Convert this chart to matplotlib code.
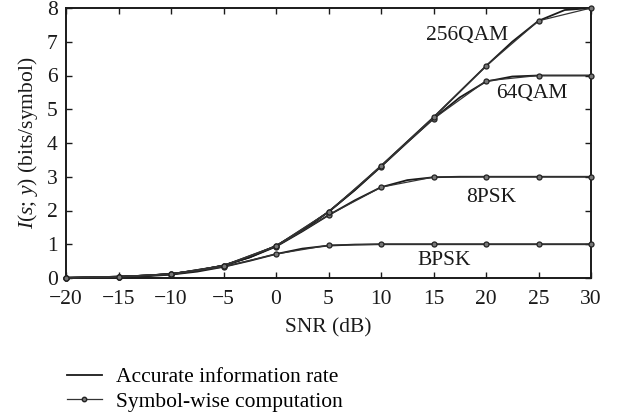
import matplotlib
matplotlib.use("Agg")
import matplotlib.pyplot as plt
from matplotlib.lines import Line2D

plt.rcParams['font.family'] = ['Liberation Serif', 'DejaVu Serif']
plt.rcParams['mathtext.fontset'] = 'custom'
plt.rcParams['mathtext.rm'] = 'Liberation Serif'
plt.rcParams['mathtext.it'] = 'Liberation Serif:italic'

# Symbol-wise computation (markers every 5 dB)
snr = [-20, -15, -10, -5, 0, 5, 10, 15, 20, 25, 30]
sym_bpsk = [0.005, 0.025, 0.10, 0.33, 0.71, 0.97, 1.0, 1.0, 1.0, 1.0, 1.0]
sym_8psk = [0.008, 0.04, 0.12, 0.36, 0.93, 1.86, 2.69, 2.99, 3.0, 3.0, 3.0]
sym_64qam = [0.008, 0.04, 0.12, 0.37, 0.95, 1.95, 3.30, 4.72, 5.84, 6.0, 6.0]
sym_256qam = [0.008, 0.04, 0.12, 0.37, 0.95, 1.96, 3.32, 4.76, 6.28, 7.62, 8.0]

# Accurate information rate (read at 2.5 dB steps)
snr_fine = [-20, -17.5, -15, -12.5, -10, -7.5, -5, -2.5, 0, 2.5, 5, 7.5,
            10, 12.5, 15, 17.5, 20, 22.5, 25, 27.5, 30]
acc_bpsk = [0.005, 0.012, 0.025, 0.05, 0.10, 0.19, 0.33, 0.51, 0.71, 0.87,
            0.96, 0.99, 1.0, 1.0, 1.0, 1.0, 1.0, 1.0, 1.0, 1.0, 1.0]
acc_8psk = [0.008, 0.018, 0.04, 0.07, 0.12, 0.22, 0.37, 0.61, 0.93, 1.38,
            1.86, 2.30, 2.69, 2.90, 2.985, 3.0, 3.0, 3.0, 3.0, 3.0, 3.0]
acc_64qam = [0.008, 0.018, 0.04, 0.07, 0.12, 0.22, 0.37, 0.62, 0.95, 1.41,
             1.96, 2.60, 3.30, 4.02, 4.72, 5.35, 5.82, 5.97, 6.0, 6.0, 6.0]
acc_256qam = [0.008, 0.018, 0.04, 0.07, 0.12, 0.22, 0.37, 0.62, 0.95, 1.41,
              1.96, 2.61, 3.32, 4.04, 4.76, 5.52, 6.28, 7.0, 7.62, 7.94, 8.0]

labels = ["BPSK", "8PSK", "64QAM", "256QAM"]
label_pos = [(16.0, 0.52), (20.5, 2.38), (24.4, 5.47), (18.2, 7.18)]

xticks = [-20, -15, -10, -5, 0, 5, 10, 15, 20, 25, 30]
yticks = [0, 1, 2, 3, 4, 5, 6, 7, 8]

fig = plt.figure(figsize=(6.2, 4.17), dpi=100)
ax = fig.add_axes([66/620, 1-278/417, (591-66)/620, (278-8)/417])

fs = 15.5
for acc in [acc_bpsk, acc_8psk, acc_64qam, acc_256qam]:
    ax.plot(snr_fine, acc, color='#1a1a1a', lw=1.3, solid_joinstyle='round', zorder=3)
for sym in [sym_bpsk, sym_8psk, sym_64qam, sym_256qam]:
    ax.plot(snr, sym, color='#333333', lw=0.9, marker='o', ms=3.6,
            mfc='#777777', mec='#222222', mew=0.9, zorder=4, clip_on=False)

for lab, (x, y) in zip(labels, label_pos):
    ax.text(x, y, lab, ha='center', va='center', fontsize=fs, color='#1a1a1a')

ax.set_xlim(-20, 30)
ax.set_ylim(0, 8)
ax.set_xticks(xticks)
ax.set_yticks(yticks)
ax.tick_params(direction='in', top=True, right=True, length=4, width=1.0,
               labelsize=fs, colors='#1a1a1a')
ax.tick_params(axis='x', pad=9)
ax.tick_params(axis='y', pad=6)
for s in ax.spines.values():
    s.set_linewidth(1.4)
    s.set_color('#1a1a1a')

ax.set_xlabel('SNR (dB)', fontsize=fs, color='#1a1a1a', labelpad=6)
ax.set_ylabel(r'$I(s;\,y)$ (bits/symbol)', fontsize=fs, color='#1a1a1a', labelpad=5)

handles = [Line2D([], [], color='#1a1a1a', lw=1.3),
           Line2D([], [], color='#333333', lw=0.9, marker='o', ms=3.2,
                  mfc='#777777', mec='#222222')]
fig.legend(handles, ['Accurate information rate', 'Symbol-wise computation'],
           loc='upper left', bbox_to_anchor=(52/620, 1-352/417), frameon=False,
           fontsize=fs, handlelength=1.6, handletextpad=0.65, labelspacing=0.2,
           borderpad=0.2)

fig.savefig('out.png', dpi=100)
